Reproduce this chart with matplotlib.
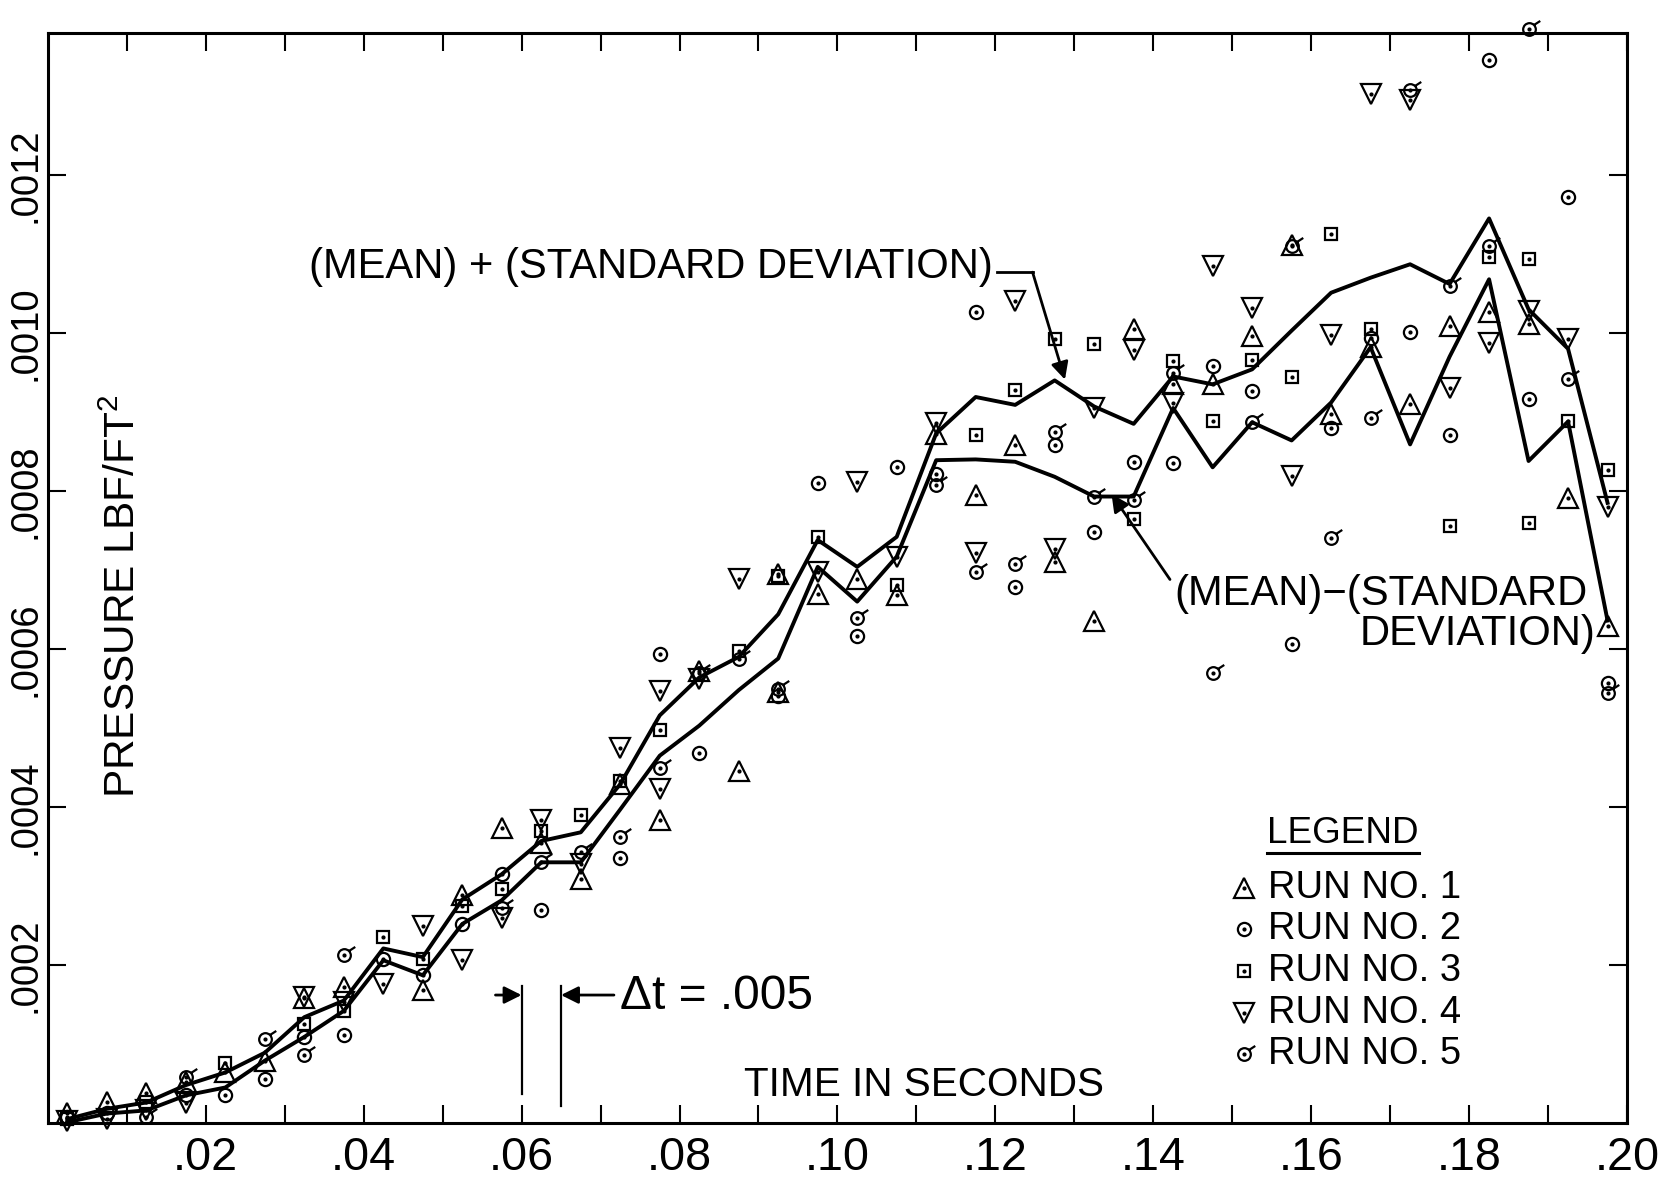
import numpy as np
import matplotlib
matplotlib.use("Agg")
import matplotlib.pyplot as plt
from matplotlib.path import Path
from matplotlib import font_manager

nan = np.nan

# sample times: middle of each .005 s interval
t = np.arange(0.0025, 0.2, 0.005)

# pressures in units of 1e-4 lbf/ft^2
run1 = np.array([0.13, 0.26, 0.38, 0.52, 0.64, 0.79, 1.58, 1.72, nan, 1.68,
                 2.88, 3.74, 3.55, 3.09, 4.29, 3.83, 5.72, 4.46, 6.95, 6.70,
                 6.89, 6.68, 8.72, 7.95, 8.58, 7.10, 6.36, 10.05, 9.35, 9.35,
                 9.96, 11.12, 8.97, 9.82, 9.10, 10.09, 10.27, 10.12, 7.91, 6.29])
run2 = np.array([0.08, 0.13, nan, 0.36, 0.35, 0.56, 1.09, 1.12, 2.08, 1.87,
                 2.52, 3.15, 2.70, nan, 3.36, 5.94, 4.69, nan, 5.40, 8.10,
                 6.17, 8.31, 8.22, 10.27, 6.79, 8.58, 7.48, 8.37, 8.35, 9.58,
                 9.26, 6.06, 8.80, 9.94, 10.01, 8.71, 13.46, 9.17, 11.72, 5.57])
run3 = np.array([0.05, nan, 0.26, nan, 0.76, nan, 1.25, 1.42, 2.36, 2.07,
                 2.75, 2.96, 3.70, 3.90, 4.33, 4.97, nan, 5.98, 6.92, 7.42,
                 nan, 6.81, nan, 8.71, 9.28, 9.92, 9.86, 7.65, 9.65, 8.88,
                 9.66, 9.44, 11.25, 10.05, nan, 7.56, 10.96, 10.94, 8.88, 8.27])
run4 = np.array([0.02, 0.05, 0.16, 0.25, nan, nan, 1.60, 1.53, 1.76, 2.50,
                 2.06, 2.60, 3.83, 3.28, 4.75, 5.47, 5.62, 6.88, nan, 6.98,
                 8.12, 7.17, 8.86, 7.21, 10.40, 7.27, 9.05, 9.78, 9.12, 10.85,
                 10.32, 8.19, 9.98, 13.03, 12.95, 9.30, 9.87, 10.28, 9.92, 7.80])
run5 = np.array([nan, nan, 0.07, 0.58, nan, 1.06, 0.86, 2.13, nan, nan,
                 nan, 2.72, 3.30, 3.43, 3.62, 4.50, 5.70, 5.87, 5.50, nan,
                 6.39, nan, 8.07, 6.98, 7.08, 8.75, 7.93, 7.88, 9.50, 5.70,
                 8.87, 11.10, 7.41, 8.93, 13.07, 10.60, 11.10, 13.85, 9.42, 5.44])
# second marker of the same run at one time
extra_run = [4, 1, 3]
extra_t = [0.0775, 0.0925, 0.1875]
extra_val = [4.23, 5.45, 7.60]

mean_plus = np.array([0.05, 0.18, 0.26, 0.48, 0.64, 0.89, 1.34, 1.55, 2.21, 2.10,
                      2.83, 3.15, 3.57, 3.68, 4.29, 5.16, 5.64, 5.90, 6.44, 7.38,
                      7.04, 7.42, 8.73, 9.19, 9.09, 9.40, 9.07, 8.85, 9.45, 9.35,
                      9.54, 10.03, 10.51, 10.70, 10.87, 10.62, 11.45, 10.30, 9.80, 7.85])
mean_minus = np.array([0.01, 0.12, 0.16, 0.35, 0.45, 0.79, 1.09, 1.42, 2.06, 1.87,
                       2.52, 2.82, 3.30, 3.30, 3.97, 4.65, 5.03, 5.48, 5.88, 7.04,
                       6.60, 7.17, 8.39, 8.40, 8.37, 8.18, 7.93, 7.93, 9.05, 8.30,
                       8.87, 8.64, 9.12, 9.82, 8.59, 9.70, 10.68, 8.38, 8.88, 6.36])

x_ticks = [0.02, 0.04, 0.06, 0.08, 0.10, 0.12, 0.14, 0.16, 0.18, 0.20]
x_labels = [".02", ".04", ".06", ".08", ".10", ".12", ".14", ".16", ".18", ".20"]
y_ticks = [0.0002, 0.0004, 0.0006, 0.0008, 0.0010, 0.0012]
y_labels = [".0002", ".0004", ".0006", ".0008", ".0010", ".0012"]
legend_labels = ["RUN NO. 1", "RUN NO. 2", "RUN NO. 3", "RUN NO. 4", "RUN NO. 5"]

# font: narrow lettering if available
names = {f.name for f in font_manager.fontManager.ttflist}
if "Liberation Sans Narrow" in names:
    family, fs = "Liberation Sans Narrow", 1.0
else:
    family, fs = "Liberation Sans", 0.885
plt.rcParams["font.family"] = [family, "DejaVu Sans"]
plt.rcParams["mathtext.fontset"] = "custom"
plt.rcParams["mathtext.rm"] = family
plt.rcParams["mathtext.it"] = family

# circle with a little flag, for run 5
flag_circle = Path.make_compound_path(Path.unit_circle(),
                                      Path([(0.7, 0.7), (1.7, 1.35)]))
styles = [("^", 14), ("o", 9.5), ("s", 8.8), ("v", 14), (flag_circle, 15.5)]

fig = plt.figure(figsize=(16.6, 11.97), dpi=100)
ax = fig.add_axes([0.0287, 0.0618, 0.9516, 0.9108])
ax.set_xlim(0, 0.2)
ax.set_ylim(0, 0.00138)

ax.plot(t, mean_plus * 1e-4, color="k", lw=2.8, zorder=2)
ax.plot(t, mean_minus * 1e-4, color="k", lw=2.8, zorder=2)

for vals, (mk, ms) in zip([run1, run2, run3, run4, run5], styles):
    ax.plot(t, vals * 1e-4, ls="none", marker=mk, ms=ms, mfc="none", mec="k",
            mew=1.6, zorder=3, clip_on=False)
    ax.plot(t, vals * 1e-4, ls="none", marker="o", ms=2.0, color="k", zorder=3,
            clip_on=False)
for r, tx, v in zip(extra_run, extra_t, extra_val):
    mk, ms = styles[r - 1]
    ax.plot([tx], [v * 1e-4], ls="none", marker=mk, ms=ms, mfc="none", mec="k",
            mew=1.6, zorder=3)
    ax.plot([tx], [v * 1e-4], ls="none", marker="o", ms=2.0, color="k", zorder=3)

# axes, ticks
for s in ax.spines.values():
    s.set_linewidth(2.2)
ax.set_xticks(x_ticks)
ax.set_xticklabels(x_labels, fontsize=38 * fs)
ax.set_xticks(np.arange(0.01, 0.2, 0.02), minor=True)
ax.set_yticks(y_ticks)
ax.set_yticklabels(y_labels, fontsize=31 * fs, rotation=90, va="center")
ax.tick_params(axis="x", which="both", direction="in", length=13, width=1.5,
               top=True, pad=9)
ax.tick_params(axis="y", which="both", direction="in", length=13, width=1.5,
               right=True, pad=3)

# labels inside the frame
ax.text(0.111, 0.48e-4, "TIME IN SECONDS", fontsize=33 * fs, ha="center", va="center")
ax.text(0.0097, 6.67e-4, "PRESSURE LBF/FT$^2$", fontsize=34.5 * fs, rotation=90,
        ha="center", va="center")

arrow = dict(arrowstyle="-|>", lw=2.0, color="k", mutation_scale=26,
             shrinkA=0, shrinkB=0)

plus_txt = ax.text(0.0331, 10.84e-4, "(MEAN) + (STANDARD DEVIATION)",
                   fontsize=34 * fs, ha="left", va="center")
ax.text(0.1427, 6.70e-4, "(MEAN)\u2212(STANDARD", fontsize=34 * fs,
        ha="left", va="center")
ax.text(0.1960, 6.19e-4, "DEVIATION)", fontsize=34 * fs, ha="right", va="center")
ax.annotate("", xy=(0.1347, 7.96e-4), xytext=(0.1421, 6.88e-4), arrowprops=arrow)

# delta t marks
ax.plot([0.060, 0.060], [0.37e-4, 1.74e-4], color="k", lw=1.6)
ax.plot([0.065, 0.065], [0.22e-4, 1.74e-4], color="k", lw=1.6)
ax.annotate("", xy=(0.060, 1.62e-4), xytext=(0.0567, 1.62e-4), arrowprops=arrow)
ax.annotate("", xy=(0.065, 1.62e-4), xytext=(0.0717, 1.62e-4), arrowprops=arrow)
ax.text(0.0725, 1.60e-4, "\u0394t = .005", fontsize=39 * fs, ha="left", va="center")

# legend drawn by hand
leg_txt = ax.text(0.1544, 3.67e-4, "LEGEND", fontsize=30 * fs, ha="left", va="center")
leg_rows = [2.97e-4, 2.46e-4, 1.92e-4, 1.39e-4, 0.88e-4]
for (mk, ms), yy, lab in zip(styles, leg_rows, legend_labels):
    ax.plot([0.1515], [yy], ls="none", marker=mk, ms=ms, mfc="none", mec="k", mew=1.6)
    ax.plot([0.1515], [yy], ls="none", marker="o", ms=2.0, color="k")
    ax.text(0.1545, yy, lab, fontsize=31 * fs, ha="left", va="center")

# leader line of the upper label and legend underline follow the text extents
fig.canvas.draw()
inv = ax.transData.inverted()
bb = plus_txt.get_window_extent()
x_end = inv.transform((bb.x1, bb.y0))[0]
ax.plot([x_end + 0.0005, 0.1247], [10.77e-4, 10.77e-4], color="k", lw=2.0)
ax.annotate("", xy=(0.1288, 9.41e-4), xytext=(0.1247, 10.77e-4), arrowprops=arrow)
bb = leg_txt.get_window_extent()
x0, y0 = inv.transform((bb.x0, bb.y0))
x1 = inv.transform((bb.x1, bb.y0))[0]
ax.plot([x0, x1], [3.42e-4, 3.42e-4], color="k", lw=2.2)

fig.savefig("out.png", dpi=100)
